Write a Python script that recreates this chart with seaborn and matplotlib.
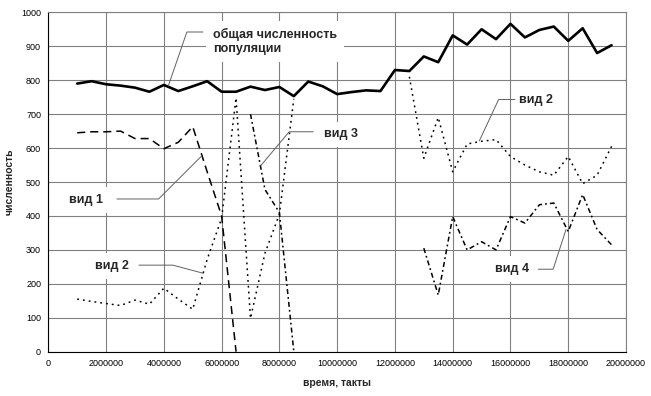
import numpy as np
import pandas as pd
import matplotlib
matplotlib.use('Agg')
import matplotlib.pyplot as plt
import seaborn as sns

# время, такты (млн)
vremya_mln = [1.0, 1.5, 2.0, 2.5, 3.0, 3.5, 4.0, 4.5, 5.0, 5.5,
              6.0, 6.5, 7.0, 7.5, 8.0, 8.5, 9.0, 9.5, 10.0, 10.5,
              11.0, 11.5, 12.0, 12.5, 13.0, 13.5, 14.0, 14.5, 15.0, 15.5,
              16.0, 16.5, 17.0, 17.5, 18.0, 18.5, 19.0, 19.5]

# общая численность популяции
obshchaya = [790, 797, 788, 784, 778, 766, 786, 768, 782, 797,
             766, 766, 781, 771, 780, 753, 796, 782, 759, 765,
             770, 768, 830, 827, 870, 853, 932, 905, 950, 921,
             966, 926, 948, 958, 916, 953, 880, 903]

nan = np.nan
vid1 = [645, 648, 648, 650, 628, 628, 598, 617, 663, 530,
        400, 0, nan, nan, nan, nan, nan, nan, nan, nan,
        nan, nan, nan, nan, nan, nan, nan, nan, nan, nan,
        nan, nan, nan, nan, nan, nan, nan, nan]

vid2 = [155, 148, 142, 136, 152, 140, 187, 155, 125, 272,
        393, 748, 98, 290, 405, 745, nan, nan, nan, nan,
        nan, nan, nan, 810, 570, 690, 530, 612, 620, 625,
        575, 550, 530, 520, 575, 495, 520, 605]

vid3 = [nan, nan, nan, nan, nan, nan, nan, nan, nan, nan,
        nan, nan, 700, 478, 410, 0, nan, nan, nan, nan,
        nan, nan, nan, nan, nan, nan, nan, nan, nan, nan,
        nan, nan, nan, nan, nan, nan, nan, nan]

vid4 = [nan, nan, nan, nan, nan, nan, nan, nan, nan, nan,
        nan, nan, nan, nan, nan, nan, nan, nan, nan, nan,
        nan, nan, nan, nan, 305, 167, 398, 300, 324, 300,
        398, 379, 433, 438, 354, 463, 360, 315]

y_ticks = [0, 100, 200, 300, 400, 500, 600, 700, 800, 900, 1000]
x_ticks = [0, 2000000, 4000000, 6000000, 8000000, 10000000,
           12000000, 14000000, 16000000, 18000000, 20000000]

sns.set_style('white')
plt.rcParams['font.family'] = ['Liberation Sans', 'DejaVu Sans']
plt.rcParams['lines.scale_dashes'] = False

SETKA = '#808080'


def segmenty(x, y):
    # разбивает ряд на непрерывные куски (без пропусков)
    df = pd.DataFrame({'x': x, 'y': y})
    gruppa = df['y'].isna().cumsum()
    df = df.dropna()
    return [g for _, g in df.groupby(gruppa[df.index])]


x = [v * 1e6 for v in vremya_mln]

fig = plt.figure(figsize=(6.51, 3.96), dpi=100)
ax = fig.add_axes([0.0742, 0.1119, 0.8874, 0.857])

stili = [
    (obshchaya, dict(lw=1.9, linestyle='-')),
    (vid1, dict(lw=1.1, linestyle=(0, (5.8, 3.6)))),
    (vid2, dict(lw=1.1, linestyle=(0, (1.3, 2.9)))),
    (vid3, dict(lw=1.1, linestyle=(0, (3.6, 2.2, 1.3, 2.2)))),
    (vid4, dict(lw=1.1, linestyle=(0, (3.6, 2.2, 1.3, 2.2)))),
]
for ryad, st in stili:
    for seg in segmenty(x, ryad):
        sns.lineplot(data=seg, x='x', y='y', ax=ax, color='black',
                     legend=False, zorder=2, **st)

ax.set_xlim(0, 20000000)
ax.set_ylim(0, 1000)
ax.set_xticks(x_ticks)
ax.set_xticklabels([str(t) for t in x_ticks])
ax.set_yticks(y_ticks)
ax.set_yticklabels([str(t) for t in y_ticks])
ax.grid(True, color=SETKA, lw=0.8)
ax.set_axisbelow(True)
ax.tick_params(axis='both', direction='out', length=2.2, width=0.7,
               labelsize=6.5, colors='black')
ax.tick_params(axis='x', pad=3)
ax.tick_params(axis='y', pad=3)
for s in ['left', 'bottom']:
    ax.spines[s].set_color('black')
    ax.spines[s].set_linewidth(0.8)
for s in ['top', 'right']:
    ax.spines[s].set_color(SETKA)
    ax.spines[s].set_linewidth(0.8)

ax.set_xlabel('время, такты', fontsize=7.5, fontweight='bold')
ax.set_ylabel('численность', fontsize=7.5, fontweight='bold')
ax.xaxis.set_label_coords(0.5, -0.077)
ax.yaxis.set_label_coords(-0.058, 0.5)

# подписи рядов: текст, положение текста, начало выноски, цель, угол
podpisi = [
    ('общая численность\nпопуляции', (5.69e6, 914), 'left',
     (5.356e6, 942), (4.154e6, 783), 71),
    ('вид 1', (1.322e6, 448), 'center', (2.378e6, 450), (5.311e6, 577), 45),
    ('вид 2', (2.188e6, 252), 'center', (3.14e6, 255), (5.366e6, 231), -15),
    ('вид 3', (10.133e6, 640), 'center', (9.174e6, 648), (7.353e6, 548), 50),
    ('вид 2', (16.895e6, 743), 'center', (16.157e6, 743), (14.921e6, 621), 65),
    ('вид 4', (16.046e6, 243), 'center', (16.964e6, 243), (17.923e6, 360), 72),
]
for tekst, poz, ha, nachalo, cel, ugol in podpisi:
    ax.text(poz[0], poz[1], tekst, ha=ha, va='center', fontsize=9,
            fontweight='bold', zorder=3,
            bbox=dict(boxstyle='square,pad=0.55', fc='white', ec='none'))
    ax.annotate('', xy=cel, xytext=nachalo, zorder=4,
                arrowprops=dict(arrowstyle='-', color='#606060', lw=0.7,
                                shrinkA=0, shrinkB=0,
                                connectionstyle=f'angle,angleA=0,angleB={ugol},rad=0'))

fig.savefig('out.png', dpi=100)
